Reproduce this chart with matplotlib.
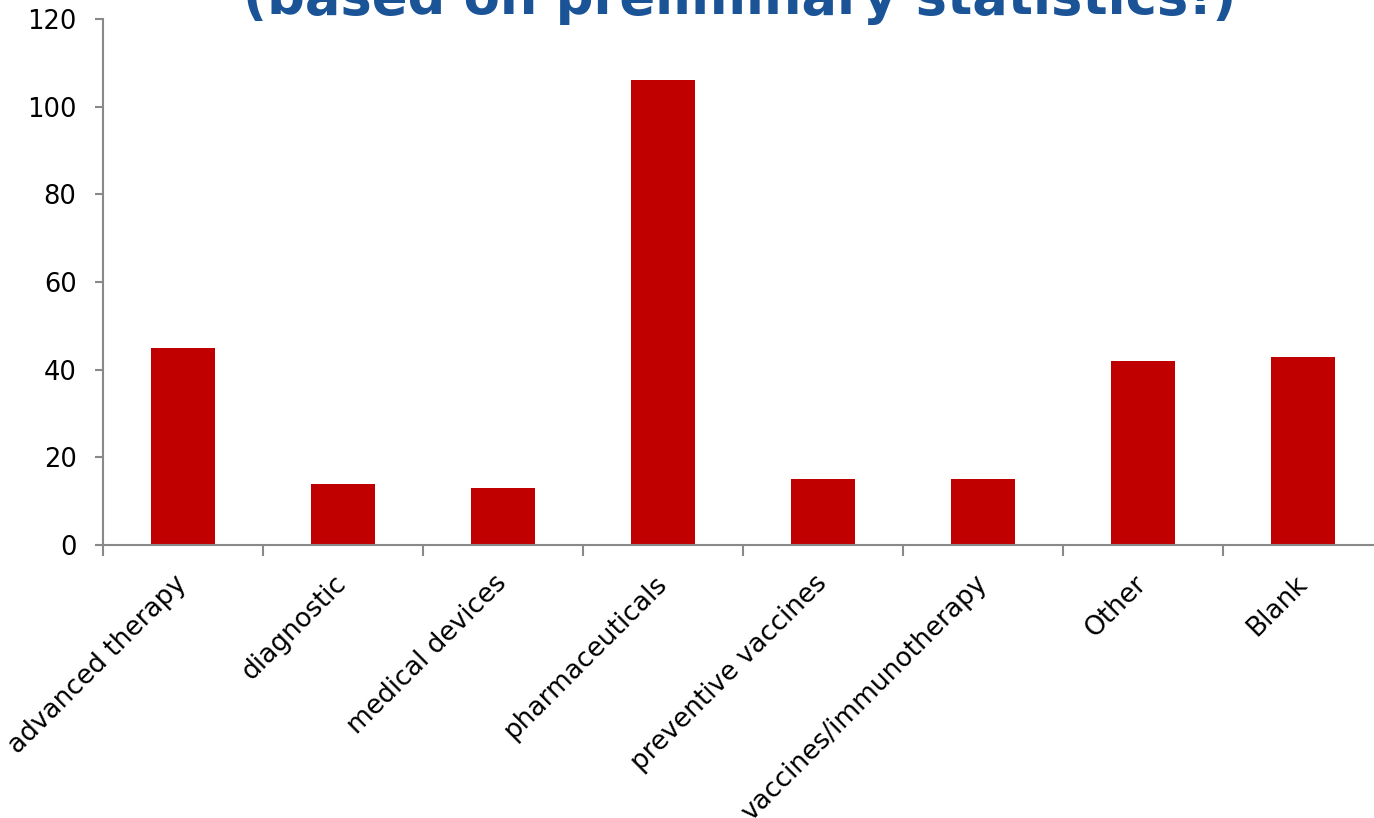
import numpy as np
import matplotlib.pyplot as plt

categories = ["advanced therapy", "diagnostic", "medical devices", "pharmaceuticals",
              "preventive vaccines", "vaccines/immunotherapy", "Other", "Blank"]
counts = [45, 14, 13, 106, 15, 15, 42, 43]

plt.rcParams['font.family'] = ['DejaVu Sans']

fig = plt.figure(figsize=(13.74, 8.18), dpi=100)
ax = fig.add_axes([103 / 1374, 1 - 545 / 818, 1280 / 1374, 526 / 818])

x = np.arange(len(categories))
ax.bar(x, counts, width=0.4, color='#C00000')

ax.set_xlim(-0.5, len(categories) - 0.5)
ax.set_ylim(0, 120)
ax.set_yticks(range(0, 121, 20))

# labels at category centres, ticks at category boundaries
ax.set_xticks(x)
ax.set_xticklabels(categories, rotation=45, ha='right', va='center', rotation_mode='anchor')
ax.set_xticks(np.arange(-0.5, len(categories)), minor=True)
ax.tick_params(axis='x', which='major', length=0, pad=25, labelsize=19)
ax.tick_params(axis='x', which='minor', length=8, width=1.5, color='#898989', direction='out')
ax.tick_params(axis='y', length=6, width=1.5, color='#898989', labelsize=18.5, pad=13)

for s in ['top', 'right']:
    ax.spines[s].set_visible(False)
for s in ['left', 'bottom']:
    ax.spines[s].set_color('#898989')
    ax.spines[s].set_linewidth(1.5)

fig.text(740 / 1374, 1 - 14 / 818, "(based on preliminary statistics!)", ha='center', va='baseline',
         fontsize=38, fontweight='bold', color='#1B5496')

fig.savefig('out.png', dpi=100)
